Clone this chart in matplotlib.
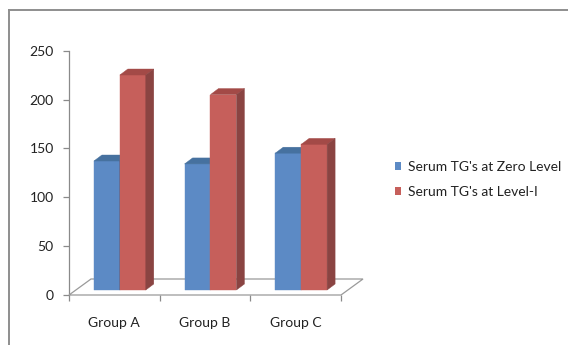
import matplotlib
matplotlib.use("Agg")
import matplotlib.pyplot as plt
from matplotlib.patches import Polygon, Patch
from matplotlib.lines import Line2D
import numpy as np

plt.rcParams['font.family'] = ['Lato', 'DejaVu Sans']

# Serum TG values per group
groups = ['Group A', 'Group B', 'Group C']
zero_level = [132, 129, 140]
level_one = [220, 200, 149]
series_names = ["Serum TG's at Zero Level", "Serum TG's at Level-I"]

# face colours: front, top, side
blue = ('#5C8AC5', '#46719F', '#3C5F88')
red = ('#C65F5B', '#A34A47', '#8A4442')

DPI = 100
fig = plt.figure(figsize=(5.68, 3.45), dpi=DPI)
fig.patch.set_facecolor('white')
ax = fig.add_axes([69 / 568, 50 / 345, 272 / 568, 244.3 / 345])
ax.set_xlim(0, len(groups))
ax.set_ylim(0, 250)
ax.patch.set_alpha(0)

for s in ['top', 'right', 'bottom']:
    ax.spines[s].set_visible(False)
ax.spines['left'].set_color('#8a8a8a')
ax.spines['left'].set_linewidth(0.9)

ax.set_yticks(np.arange(0, 251, 50))
ax.tick_params(axis='y', length=4, width=0.9, color='#8a8a8a', pad=7,
               labelsize=10, labelcolor='#222222')
ax.set_xticks(np.arange(len(groups)) + 0.5)
ax.set_xticklabels(groups)
ax.set_xticks(np.arange(len(groups) + 1), minor=True)
ax.tick_params(axis='x', which='major', length=0, pad=15.5, labelsize=10,
               labelcolor='#222222')
ax.tick_params(axis='x', which='minor', length=4, width=0.9, color='#8a8a8a')

fig.canvas.draw()


def to_px(x, y):
    return ax.transData.transform((x, y))


def poly(points, color, z):
    p = Polygon(points, closed=True, facecolor=color, edgecolor=color,
                linewidth=0.3, transform=None, zorder=z, clip_on=False)
    fig.add_artist(p)


# floor of the plot area
floor_depth = np.array([22, 16])
fl = to_px(0, 0)
fr = to_px(len(groups), 0)
floor = [fl, fr, fr + floor_depth, fl + floor_depth]
fig.add_artist(Polygon(floor, closed=True, facecolor='white',
                       edgecolor='#9a9a9a', linewidth=0.9,
                       transform=None, zorder=1))

# bars sit a quarter of the way back on the floor
bar_shift = np.array([5.5, 5])
bar_depth = np.array([8, 6])
width = 0.286

for i in range(len(groups)):
    for j, (vals, cols) in enumerate([(zero_level, blue), (level_one, red)]):
        x0 = i + 0.5 - width + j * width
        x1 = x0 + width
        v = vals[i]
        bl = to_px(x0, 0) + bar_shift
        br = to_px(x1, 0) + bar_shift
        tl = to_px(x0, v) + bar_shift
        tr = to_px(x1, v) + bar_shift
        z = 3 + i * 3 + j
        poly([bl, br, tr, tl], cols[0], z)
        poly([tl, tr, tr + bar_depth, tl + bar_depth], cols[1], z)
        poly([br, br + bar_depth, tr + bar_depth, tr], cols[2], z)

# legend
handles = [Patch(facecolor=blue[0], edgecolor='none'),
           Patch(facecolor=red[0], edgecolor='none')]
fig.legend(handles, series_names, loc='center left',
           bbox_to_anchor=(382 / 568, 1 - 179.5 / 345), frameon=False,
           fontsize=10, handlelength=0.5, handleheight=0.5,
           handletextpad=0.45, labelspacing=0.95, labelcolor='#222222')

# chart border
fig.add_artist(Line2D([9 / 568, 1], [1 - 10 / 345] * 2, color='#8e8e8e',
                      linewidth=1.4, transform=fig.transFigure))
fig.add_artist(Line2D([9 / 568] * 2, [0, 1 - 10 / 345], color='#8e8e8e',
                      linewidth=1.4, transform=fig.transFigure))

fig.savefig('out.png', dpi=DPI)
